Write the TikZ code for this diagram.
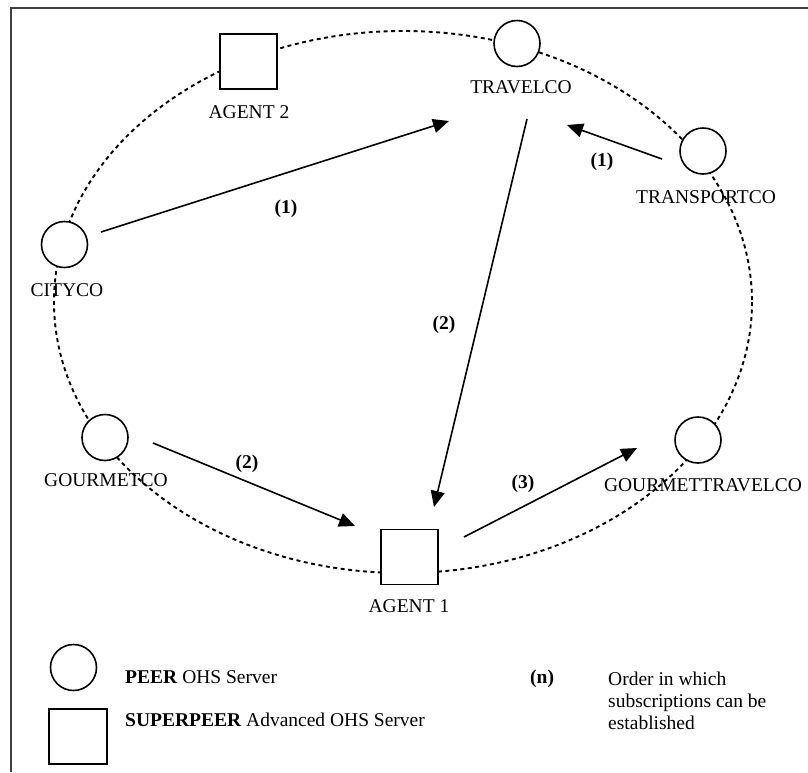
\documentclass[tikz,border=0pt]{standalone}
\usepackage{fontspec}
\setmainfont{Liberation Serif}
\usetikzlibrary{arrows.meta}
\begin{document}
\begin{tikzpicture}[x=1pt,y=-1pt,
 peer/.style={circle,draw,fill=white,line width=1.6pt,minimum size=46pt,inner sep=0pt},
 superpeer/.style={rectangle,draw,fill=white,line width=1.6pt,minimum width=57pt,minimum height=55pt,inner sep=0pt},
 lbl/.style={anchor=base,inner sep=0pt,font=\fontsize{19.5}{22}\selectfont},
 num/.style={anchor=base,inner sep=0pt,font=\fontsize{19.5}{22}\selectfont\bfseries},
 sub/.style={-{Triangle[length=16pt,width=14pt]},line width=1.6pt},
 ring/.style={dash pattern=on 4pt off 3.5pt,line width=1.9pt}]
\useasboundingbox (0,0) rectangle (808,772);
\draw[line width=1.6pt, black!75] (11,772) -- (11,8) -- (808,8);
\draw[ring] (403,302) ellipse [x radius=349, y radius=271];
% servers
\node[superpeer] (agent2) at (248.5,61.5) {};
\node[peer] (travelco) at (517,43.5) {};
\node[peer] (transportco) at (703,151) {};
\node[peer] (cityco) at (64.5,244.5) {};
\node[peer] (gourmetco) at (105,437.5) {};
\node[peer] (gtravelco) at (698,440) {};
\node[superpeer] (agent1) at (409.5,557) {};
% labels
\node[lbl] (agent2l) at (249,118) {AGENT 2};
\node[lbl] (travelcol) at (521,93) {TRAVELCO};
\node[lbl] (transportcol) at (706,203) {TRANSPORTCO};
\node[lbl] (citycol) at (67,296) {CITYCO};
\node[lbl] (gourmetcol) at (106,486) {GOURMETCO};
\node[lbl] (gtravelcol) at (703,491) {GOURMETTRAVELCO};
\node[lbl] (agent1l) at (409,612) {AGENT 1};
% subscription arrows
\coordinate (a1s) at (101,232); \coordinate (a1e) at (449,121);
\coordinate (a2s) at (662,159); \coordinate (a2e) at (567,125);
\coordinate (a3s) at (527,119); \coordinate (a3e) at (434,507);
\coordinate (a4s) at (153,443); \coordinate (a4e) at (355,526);
\coordinate (a5s) at (464,537); \coordinate (a5e) at (637,448);
\draw[sub] (a1s) -- (a1e);
\draw[sub] (a2s) -- (a2e);
\draw[sub] (a3s) -- (a3e);
\draw[sub] (a4s) -- (a4e);
\draw[sub] (a5s) -- (a5e);
\node[num] (n1a) at (286,213.5) {(1)};
\node[num] (n1b) at (602,166.5) {(1)};
\node[num] (n2a) at (444,329.5) {(2)};
\node[num] (n2b) at (247,468.5) {(2)};
\node[num] (n3) at (523,488.5) {(3)};
% legend
\node[peer] (legpeer) at (73.5,667.5) {};
\node[superpeer,minimum width=58pt] (legsuper) at (78,736.5) {};
\node[lbl,anchor=base west] (legpeerl) at (125,683) {\textbf{PEER} OHS Server};
\node[lbl,anchor=base west] (legsuperl) at (125,726) {\textbf{SUPERPEER} Advanced OHS Server};
\node[num,anchor=base west] (legn) at (530,683.5) {(n)};
\node[lbl,anchor=base west,align=left] (legorder) at (608,729.5) {Order in which\\subscriptions can be\\established};
\end{tikzpicture}
\end{document}
